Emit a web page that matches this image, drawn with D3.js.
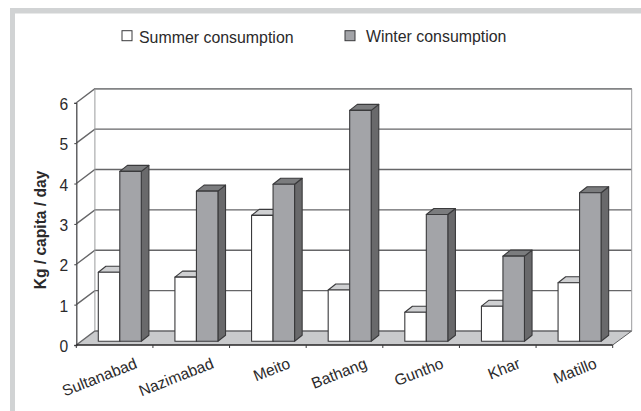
<!DOCTYPE html>
<html>
<head>
<meta charset="utf-8">
<script src="https://cdn.jsdelivr.net/npm/d3@7"></script>
<style>
  html, body { margin: 0; padding: 0; background: #fff; }
  svg { display: block; font-family: "Liberation Sans", Arial, sans-serif; }
  text { fill: #2b2a2b; }
</style>
</head>
<body>
<div id="chart"></div>
<script>
var categories = ["Sultanabad", "Nazimabad", "Meito", "Bathang", "Guntho", "Khar", "Matillo"];
var seriesNames = ["Summer consumption", "Winter consumption"];
var summer = [1.71, 1.59, 3.12, 1.27, 0.72, 0.87, 1.45];
var winter = [4.21, 3.72, 3.89, 5.72, 3.14, 2.11, 3.68];
var yTicks = [0, 1, 2, 3, 4, 5, 6];

var width = 641, height = 411;
var left = 76.3, right = 612.7, bottom = 345, top6 = 102.8;
// depth of the back wall and of the bars
var wallDx = 18.6, wallDy = 14, barDx = 7.6, barDy = 6, barLift = 3.7;

var svg = d3.select("#chart").append("svg")
  .attr("width", width)
  .attr("height", height);

// grey frame at top and left
svg.append("rect").attr("x", 10).attr("y", 8).attr("width", width - 10).attr("height", 5.5).attr("fill", "#d1d3d4");
svg.append("rect").attr("x", 10).attr("y", 8).attr("width", 5).attr("height", height - 8).attr("fill", "#d1d3d4");

var x = d3.scaleBand().domain(categories).range([left, right]);
var y = d3.scaleLinear().domain([0, 6]).range([bottom, top6]);
var xSeries = d3.scaleBand().domain(seriesNames).range([22, 65]);

var line = d3.line();

// floor
svg.append("path")
  .attr("d", line([[left, bottom], [left + wallDx, bottom - wallDy], [right + wallDx + 0.4, bottom - wallDy], [right, bottom]]) + "Z")
  .attr("fill", "#c9cacc");

// walls and grid
var grid = svg.append("g").attr("fill", "none");
yTicks.forEach(function(t) {
  grid.append("path")
    .attr("d", line([[left, y(t)], [left + wallDx, y(t) - wallDy], [right + wallDx + 0.4, y(t) - wallDy]]))
    .attr("stroke", "#666668")
    .attr("stroke-width", 1.4);
});
grid.append("path")
  .attr("d", line([[left + wallDx, y(0) - wallDy], [left + wallDx, y(6) - wallDy]]))
  .attr("stroke", "#9a9b9d").attr("stroke-width", 1);
grid.append("path")
  .attr("d", line([[right + wallDx + 0.4, y(0) - wallDy], [right + wallDx + 0.4, y(6) - wallDy]]))
  .attr("stroke", "#9a9b9d").attr("stroke-width", 1);
grid.append("path")
  .attr("d", line([[left + wallDx, y(6) - wallDy], [right + wallDx + 0.4, y(6) - wallDy]]))
  .attr("stroke", "#8e8f91").attr("stroke-width", 1.2);
grid.append("path")
  .attr("d", line([[right, bottom], [right + wallDx + 0.4, bottom - wallDy]]))
  .attr("stroke", "#5f5f61").attr("stroke-width", 1);

// bars
var bars = svg.append("g")
  .attr("stroke", "#3a3a3c")
  .attr("stroke-width", 1.1)
  .attr("stroke-linejoin", "round");

function drawBar(cat, name, value, front, topFace, sideFace) {
  var x0 = x(cat) + xSeries(name);
  var w = xSeries.bandwidth();
  var yb = y(0) - barLift;
  var yt = y(value) - barLift;
  bars.append("path")
    .attr("d", line([[x0 + w, yb], [x0 + w + barDx, yb - barDy], [x0 + w + barDx, yt - barDy], [x0 + w, yt]]) + "Z")
    .attr("fill", sideFace);
  bars.append("path")
    .attr("d", line([[x0, yt], [x0 + barDx, yt - barDy], [x0 + w + barDx, yt - barDy], [x0 + w, yt]]) + "Z")
    .attr("fill", topFace);
  bars.append("rect")
    .attr("x", x0).attr("y", yt)
    .attr("width", w).attr("height", yb - yt)
    .attr("fill", front);
}

categories.forEach(function(c, i) {
  drawBar(c, seriesNames[0], summer[i], "#ffffff", "#cfd0d2", "#8a8b8d");
  drawBar(c, seriesNames[1], winter[i], "#a3a4a8", "#7b7c7e", "#69696b");
});

// axes
var yAxis = svg.append("g")
  .attr("transform", "translate(" + left + ",0)")
  .call(d3.axisLeft(y).tickValues(yTicks).tickSize(2).tickPadding(6).tickFormat(d3.format("d")));
yAxis.selectAll("text")
  .attr("font-size", 15.6)
  .attr("font-family", "Liberation Sans, Arial, sans-serif")
  .attr("dy", "0.42em");
yAxis.select(".domain").attr("stroke", "#4a4a4c").attr("stroke-width", 1.3);
yAxis.selectAll("line").attr("stroke", "#3a3a3c");

var xAxis = svg.append("g")
  .attr("transform", "translate(0," + bottom + ")")
  .call(d3.axisBottom(x).tickSize(0));
xAxis.select(".domain").attr("d", "M" + left + ",0H" + right).attr("stroke", "#262526").attr("stroke-width", 1.4);
xAxis.selectAll("text")
  .attr("font-size", 15.6)
  .attr("font-family", "Liberation Sans, Arial, sans-serif")
  .attr("text-anchor", "end")
  .attr("y", 0).attr("dy", 0)
  .attr("transform", "translate(23.5,22.5) rotate(-21.6)");

// category tick marks sit on the band edges
svg.append("g").selectAll("line")
  .data(categories.concat([null]))
  .join("line")
  .attr("x1", function(d) { return d === null ? right : x(d); })
  .attr("x2", function(d) { return d === null ? right : x(d); })
  .attr("y1", bottom)
  .attr("y2", bottom + 3)
  .attr("stroke", "#3a3a3c")
  .attr("stroke-width", 1);

// y title
svg.append("text")
  .attr("transform", "translate(46,230) rotate(-90)")
  .attr("text-anchor", "middle")
  .attr("font-size", 15.6)
  .attr("font-weight", "bold")
  .text("Kg / capita / day");

// legend
var legendX = [122, 345];
var legendTextX = [139, 366];
var legendTextY = [42.7, 42];
var legendFill = ["#ffffff", "#a3a4a8"];
seriesNames.forEach(function(name, i) {
  svg.append("rect")
    .attr("x", legendX[i]).attr("y", 30.7)
    .attr("width", 10).attr("height", 10)
    .attr("fill", legendFill[i])
    .attr("stroke", "#3a3a3c")
    .attr("stroke-width", 1);
  svg.append("text")
    .attr("x", legendTextX[i]).attr("y", legendTextY[i])
    .attr("font-size", 15.9)
    .text(name);
});
</script>
</body>
</html>
